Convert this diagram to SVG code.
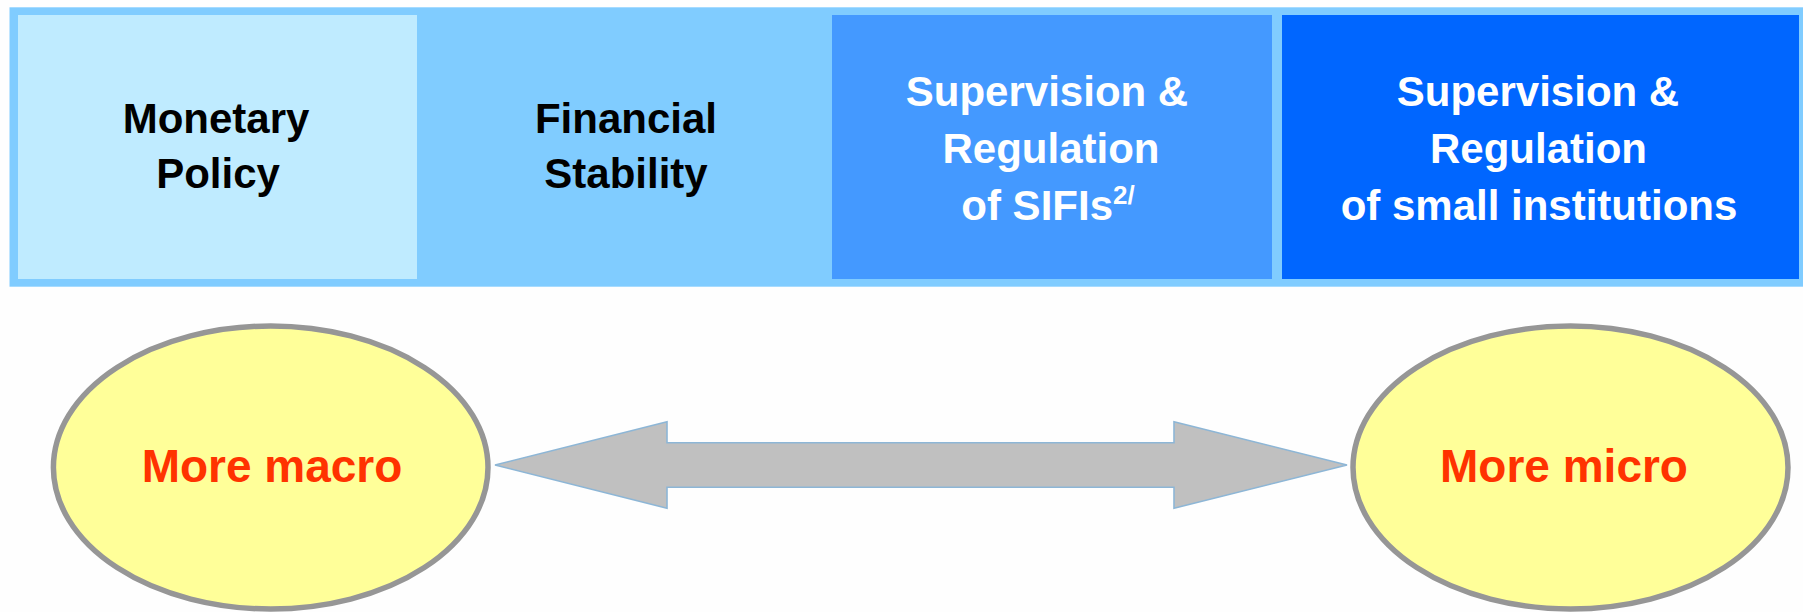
<svg xmlns="http://www.w3.org/2000/svg" width="1803" height="612" viewBox="0 0 1803 612">
  <style>
    .lbl { font-family: "Liberation Sans", Arial, sans-serif; font-weight: bold; font-size: 42px; text-anchor: middle; }
    .dark { fill: #000000; }
    .light { fill: #FFFFFF; }
    .ell { fill: #FFFF99; stroke: #969696; stroke-width: 5.5; }
    .elbl { font-family: "Liberation Sans", Arial, sans-serif; font-weight: bold; font-size: 46px; text-anchor: middle; fill: #FF3300; }
    .arrow { fill: #C0C0C0; stroke: #8DB6D6; stroke-width: 1.6; stroke-linejoin: miter; }
  </style>
  <rect x="0" y="0" width="1803" height="612" fill="#FEFEFE"/>
  <rect id="band" x="9.5" y="7.3" width="1793.5" height="279.4" fill="#80CCFF"/>

  <g id="monetary-policy">
    <rect x="18" y="15" width="399" height="264" fill="#BFEBFF"/>
    <text class="lbl dark" x="216" y="133">Monetary</text>
    <text class="lbl dark" x="218" y="188">Policy</text>
  </g>

  <g id="financial-stability">
    <rect x="417" y="15" width="415" height="264" fill="#80CCFF"/>
    <text class="lbl dark" x="626" y="133">Financial</text>
    <text class="lbl dark" x="626" y="188">Stability</text>
  </g>

  <g id="supervision-sifis">
    <rect x="832" y="15" width="440" height="264" fill="#4499FF"/>
    <text class="lbl light" x="1047" y="106">Supervision &amp;</text>
    <text class="lbl light" x="1051" y="163">Regulation</text>
    <text class="lbl light" x="1048" y="220">of SIFIs<tspan font-size="26" dy="-16">2/</tspan></text>
  </g>

  <g id="supervision-small">
    <rect x="1282" y="15" width="517" height="264" fill="#0066FF"/>
    <text class="lbl light" x="1538" y="106">Supervision &amp;</text>
    <text class="lbl light" x="1538.5" y="163">Regulation</text>
    <text class="lbl light" x="1539" y="220">of small institutions</text>
  </g>

  <g id="more-macro">
    <ellipse class="ell" cx="270.7" cy="467.5" rx="217.3" ry="141.5"/>
    <text class="elbl" x="272" y="481.5">More macro</text>
  </g>

  <g id="more-micro">
    <ellipse class="ell" cx="1570.5" cy="467.5" rx="217.5" ry="141.5"/>
    <text class="elbl" x="1564" y="481.5">More micro</text>
  </g>

  <g id="connectors">
    <polygon class="arrow" points="495,465 667,421.7 667,442.7 1174,442.7 1174,421.7 1347,465 1174,508.3 1174,487.3 667,487.3 667,508.3"/>
  </g>
</svg>
